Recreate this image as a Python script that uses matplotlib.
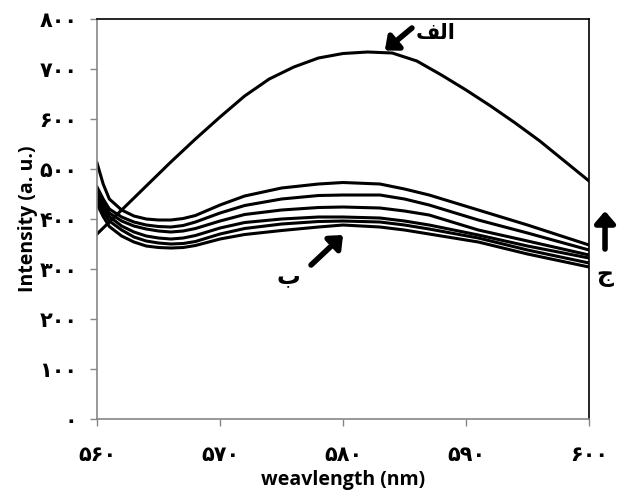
import matplotlib.pyplot as plt

# wavelength grid for the upper curve (alef)
x_alef = [560, 562, 564, 566, 568, 570, 572, 574, 576, 578, 580, 582, 584, 586, 588, 590, 592, 594, 596, 598, 600]
y_alef = [370, 418, 466, 514, 560, 604, 646, 680, 704, 722, 731, 734, 732, 716, 688, 658, 626, 592, 556, 516, 476]

# wavelength grid for the lower family of curves
x_low = [560, 560.5, 561, 562, 563, 564, 565, 566, 567, 568, 570, 572, 575, 578, 580, 583, 585, 587, 591, 595, 600]
lower_curves = [
    [512, 470, 440, 418, 406, 400, 398, 398, 401, 407, 428, 446, 462, 470, 473, 470, 460, 448, 418, 388, 348],
    [464, 440, 420, 404, 394, 388, 385, 384, 387, 394, 412, 427, 440, 447, 448, 448, 440, 428, 398, 372, 338],
    [455, 432, 412, 396, 386, 380, 376, 374, 376, 381, 396, 409, 418, 423, 424, 422, 416, 408, 378, 356, 328],
    [448, 425, 405, 386, 374, 366, 362, 360, 362, 367, 382, 393, 400, 404, 404, 402, 396, 388, 368, 346, 322],
    [440, 415, 396, 378, 364, 356, 352, 350, 351, 355, 370, 381, 390, 395, 396, 394, 388, 380, 362, 338, 312],
    [430, 405, 385, 366, 354, 346, 343, 342, 343, 347, 360, 369, 377, 384, 388, 384, 378, 370, 354, 330, 304],
]

xticks = [560, 570, 580, 590, 600]
yticks = [0, 100, 200, 300, 400, 500, 600, 700, 800]

persian = str.maketrans('0123456789', '\u06f0\u06f1\u06f2\u06f3\u06f4\u06f5\u06f6\u06f7\u06f8\u06f9')

def fa(v):
    return str(int(v)).translate(persian)

fig = plt.figure(figsize=(6.22, 4.91), dpi=100)
ax = fig.add_axes([0.156, 0.1466, 0.791, 0.8147])

ax.plot(x_alef, y_alef, color='black', lw=2.2, solid_joinstyle='round')
for ys in lower_curves:
    ax.plot(x_low, ys, color='black', lw=2.2, solid_joinstyle='round')

ax.set_xlim(560, 600)
ax.set_ylim(0, 800)
ax.set_xticks(xticks)
ax.set_yticks(yticks)
ax.set_xticklabels([fa(v) for v in xticks], fontsize=15, fontweight='bold', family='DejaVu Sans')
ax.set_yticklabels([fa(v) for v in yticks], fontsize=15, fontweight='bold', family='DejaVu Sans')
ax.tick_params(direction='out', length=5, color='#868686', width=1)
ax.tick_params(axis='x', pad=14)
ax.tick_params(axis='y', pad=9)

for s in ['left', 'bottom']:
    ax.spines[s].set_color('#868686')
    ax.spines[s].set_linewidth(1.2)
for s in ['top', 'right']:
    ax.spines[s].set_color('black')
    ax.spines[s].set_linewidth(1.2)

ax.set_xlabel('weavlength (nm)', fontsize=14, fontweight='bold', family='Open Sans', labelpad=3)
ax.set_ylabel('Intensity (a. u.)', fontsize=14, fontweight='bold', family='Open Sans')
ax.yaxis.set_label_coords(-0.12, 0.5)

arrow = dict(arrowstyle='-|>,head_width=0.6,head_length=0.7', color='black', lw=4, shrinkA=0, shrinkB=0)

# الف : presentation forms in visual order
ax.annotate('', xy=(583.4, 737), xytext=(585.6, 782), arrowprops=arrow)
ax.text(585.9, 772, '\uFED2\uFEDF\uFE8D', fontsize=15, fontweight='bold', family='DejaVu Sans', va='center', ha='left')

# ب
ax.annotate('', xy=(580.0, 368), xytext=(577.4, 308), arrowprops=arrow)
ax.text(576.5, 285, '\u0628', fontsize=17, fontweight='bold', family='DejaVu Sans', va='center', ha='right')

# ج
ax.annotate('', xy=(601.3, 416), xytext=(601.3, 340), arrowprops=arrow, annotation_clip=False)
ax.text(601.3, 288, '\u062c', fontsize=17, fontweight='bold', family='DejaVu Sans', va='center', ha='center', clip_on=False)

fig.savefig('out.png', dpi=100)
